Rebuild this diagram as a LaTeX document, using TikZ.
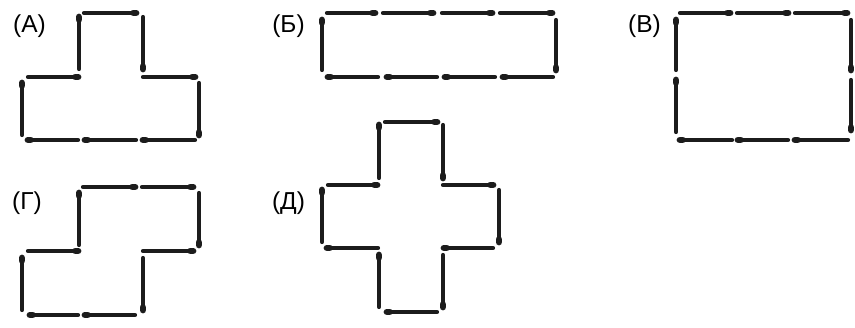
\documentclass[tikz,border=0pt]{standalone}
\usepackage{fontspec}
\setmainfont{Liberation Sans}
\usetikzlibrary{calc}
\definecolor{matchcol}{HTML}{1C1C1C}
\tikzset{
  matchbody/.style={draw=matchcol, line width=4.2pt, line cap=round},
  matchhead/.style={draw=matchcol, line width=6.8pt, line cap=round},
  lbl/.style={font=\fontsize{24.5}{26}\selectfont, text=black, inner sep=0pt}
}
\newcommand\mt[4]{\draw[matchbody] (#1,#2) -- (#3,#4); \draw[matchhead] ($(#3,#4)!2.5pt!(#1,#2)$) -- (#3,#4);}
\begin{document}
\begin{tikzpicture}[x=1pt,y=-1pt]
\useasboundingbox (0,0) rectangle (855,327);
% labels
\node[lbl] (la) at (29.5,26) {(А)};
\node[lbl] (lb) at (288.5,26) {(Б)};
\node[lbl] (lv) at (644.5,26) {(В)};
\node[lbl] (lg) at (27,203) {(Г)};
\node[lbl] (ld) at (288.5,203) {(Д)};
% A
\mt{84}{13}{136}{13}
\mt{79}{69}{79}{17}
\mt{143}{17}{143}{69}
\mt{28}{77}{78}{77}
\mt{143}{77}{195}{77}
\mt{22}{135}{22}{83}
\mt{199}{83}{199}{135}
\mt{78}{140}{28}{140}
\mt{136}{140}{85}{140}
\mt{195}{140}{143}{140}
% Б
\mt{327}{13}{375}{13}
\mt{383}{13}{433}{13}
\mt{442}{13}{492}{13}
\mt{500}{13}{552}{13}
\mt{322}{70}{322}{20}
\mt{556}{20}{556}{70}
\mt{378}{77}{328}{77}
\mt{437}{77}{387}{77}
\mt{495}{77}{445}{77}
\mt{553}{77}{503}{77}
% В
\mt{680}{13}{730}{13}
\mt{737}{13}{788}{13}
\mt{795}{13}{847}{13}
\mt{676}{70}{676}{20}
\mt{676}{132}{676}{80}
\mt{851}{20}{851}{70}
\mt{851}{80}{851}{130}
\mt{732}{140}{680}{140}
\mt{788}{140}{738}{140}
\mt{848}{140}{795}{140}
% Г
\mt{83}{187}{135}{187}
\mt{142}{187}{193}{187}
\mt{79}{245}{79}{193}
\mt{199}{193}{199}{245}
\mt{28}{251}{78}{251}
\mt{143}{251}{193}{251}
\mt{22}{310}{22}{258}
\mt{143}{258}{143}{310}
\mt{78}{315}{30}{315}
\mt{135}{315}{85}{315}
% Д
\mt{385}{122}{437}{122}
\mt{379}{178}{379}{125}
\mt{443}{125}{443}{178}
\mt{328}{185}{377}{185}
\mt{443}{185}{493}{185}
\mt{322}{242}{322}{190}
\mt{499}{190}{499}{242}
\mt{378}{248}{327}{248}
\mt{493}{248}{444}{248}
\mt{379}{307}{379}{255}
\mt{443}{255}{443}{307}
\mt{437}{312}{387}{312}
\end{tikzpicture}
\end{document}
